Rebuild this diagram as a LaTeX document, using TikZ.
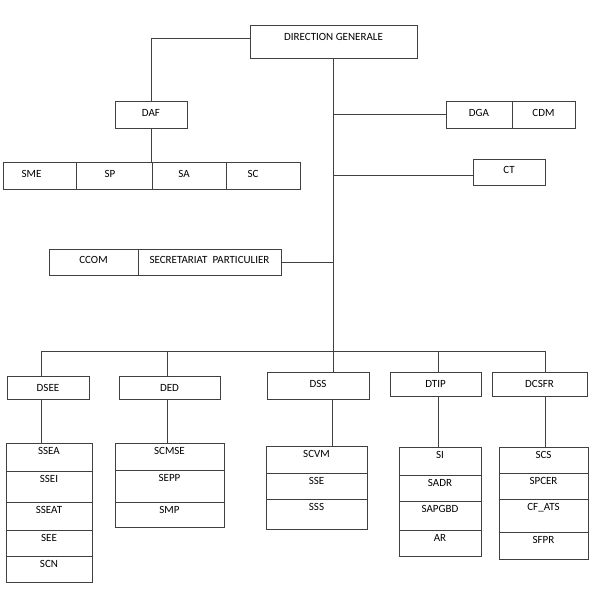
\documentclass[tikz,border=0pt]{standalone}
\usepackage{fontspec}
\setmainfont{Carlito}
\usetikzlibrary{positioning}
\definecolor{linegray}{RGB}{64,64,64}
\tikzset{
  box/.style={draw=linegray, line width=0.75pt, inner xsep=2pt, inner ysep=0pt,
    outer sep=0pt, anchor=north west, font=\fontsize{11}{13}\selectfont},
  cell/.style={box, minimum width=#1, text height=11pt},
  link/.style={draw=linegray, line width=0.75pt},
}
\begin{document}
\begin{tikzpicture}[x=1pt,y=-1pt]
\useasboundingbox (0,0) rectangle (595,592);

% head and staff
\node[box, minimum width=167pt, text height=15.5pt, text depth=17.5pt] (dg) at (250,25) {DIRECTION GENERALE};
\node[box, minimum width=72pt, text height=15.5pt, text depth=11.5pt] (daf) at (115,101) {DAF};
\node[box, minimum width=66pt, text height=15.5pt, text depth=11.5pt] (dga) at (446,101) {DGA};
\node[box, minimum width=63pt, text height=15.5pt, text depth=11.5pt] (cdm) at (512,101) {CDM};
\node[box, minimum width=72pt, text height=14.5pt, text depth=11.5pt] (ct) at (473,159) {CT};
\node[box, minimum width=89pt, text height=14.5pt, text depth=11.5pt] (ccom) at (49,249) {CCOM};
\node[box, minimum width=143pt, text height=14.5pt, text depth=11.5pt] (secr) at (138,249) {SECRETARIAT\ \ PARTICULIER};

% services of the DAF
\node[box, minimum width=73pt, text height=15.5pt, text depth=11.5pt] (sme) at (3,162) {SME\hspace*{16pt}};
\node[box, minimum width=76pt, text height=15.5pt, text depth=11.5pt] (sp) at (76,162) {SP\hspace*{8pt}};
\node[box, minimum width=74pt, text height=15.5pt, text depth=11.5pt] (sa) at (152,162) {SA\hspace*{10pt}};
\node[box, minimum width=74pt, text height=15.5pt, text depth=11.5pt] (sc) at (226,162) {SC\hspace*{20pt}};

% directions
\node[box, minimum width=82pt, text height=15.5pt, text depth=7.5pt] (dsee) at (7,376) {DSEE};
\node[box, minimum width=101pt, text height=15.5pt, text depth=7.5pt] (ded) at (119,376) {DED};
\node[box, minimum width=102pt, text height=15.5pt, text depth=11.5pt] (dss) at (267,372) {DSS};
\node[box, minimum width=91pt, text height=15.5pt, text depth=8.5pt] (dtip) at (390,372) {DTIP};
\node[box, minimum width=95pt, text height=15.5pt, text depth=8.5pt] (dcsfr) at (492,372) {DCSFR};

% services of the directions
\node[cell=86pt, text depth=17pt] (ssea) at (6,443) {SSEA};
\node[cell=86pt, text depth=20pt, below=0pt of ssea] (ssei) {SSEI};
\node[cell=86pt, text depth=17pt, below=0pt of ssei] (sseat) {SSEAT};
\node[cell=86pt, text depth=15pt, below=0pt of sseat] (see) {SEE};
\node[cell=86pt, text depth=15pt, below=0pt of see] (scn) {SCN};

\node[cell=109pt, text depth=16pt] (scmse) at (115,443) {SCMSE};
\node[cell=109pt, text depth=21pt, below=0pt of scmse] (sepp) {SEPP};
\node[cell=109pt, text depth=14pt, below=0pt of sepp] (smp) {SMP};

\node[cell=101pt, text depth=16pt] (scvm) at (266,446) {SCVM};
\node[cell=101pt, text depth=15pt, below=0pt of scvm] (sse) {SSE};
\node[cell=101pt, text depth=19pt, below=0pt of sse] (sss) {SSS};

\node[cell=82pt, text depth=17pt] (si) at (399,447) {SI};
\node[cell=82pt, text depth=15pt, below=0pt of si] (sadr) {SADR};
\node[cell=82pt, text depth=18pt, below=0pt of sadr] (sapgbd) {SAPGBD};
\node[cell=82pt, text depth=15pt, below=0pt of sapgbd] (ar) {AR};

\node[cell=89pt, text depth=15pt] (scs) at (499,447) {SCS};
\node[cell=89pt, text depth=15pt, below=0pt of scs] (spcer) {SPCER};
\node[cell=89pt, text depth=22pt, below=0pt of spcer] (cfats) {CF\_ATS};
\node[cell=89pt, text depth=16pt, below=0pt of cfats] (sfpr) {SFPR};

% links
\draw[link] ([yshift=3.5pt]dg.west) -| (daf.north);
\draw[link] (daf.south) -- (daf.south |- sa.north);
\draw[link] (dg.south) -- (dg.south |- dss.north);
\draw[link] (dga.west) -- (dga.west -| dg.south);
\draw[link] ([yshift=-3pt]ct.west) -- ([yshift=-3pt]ct.west -| dg.south);
\draw[link] (secr.east) -- (secr.east -| dg.south);

\coordinate (bus) at (0,351);
\draw[link] ([xshift=-7pt]dsee.north) -- ([xshift=-7pt]dsee.north |- bus)
  -- ([xshift=5.5pt]dcsfr.north |- bus) -- ([xshift=5.5pt]dcsfr.north);
\draw[link] ([xshift=-2.5pt]ded.north) -- ([xshift=-2.5pt]ded.north |- bus);
\draw[link] ([xshift=2.5pt]dtip.north) -- ([xshift=2.5pt]dtip.north |- bus);

\foreach \d/\s/\dx in {dsee/ssea/-7, ded/scmse/-2.5, dss/scvm/14, dtip/si/2.5, dcsfr/scs/5.5}
  \draw[link] ([xshift=\dx pt]\d.south) -- ([xshift=\dx pt]\d.south |- \s.north);

\end{tikzpicture}
\end{document}
